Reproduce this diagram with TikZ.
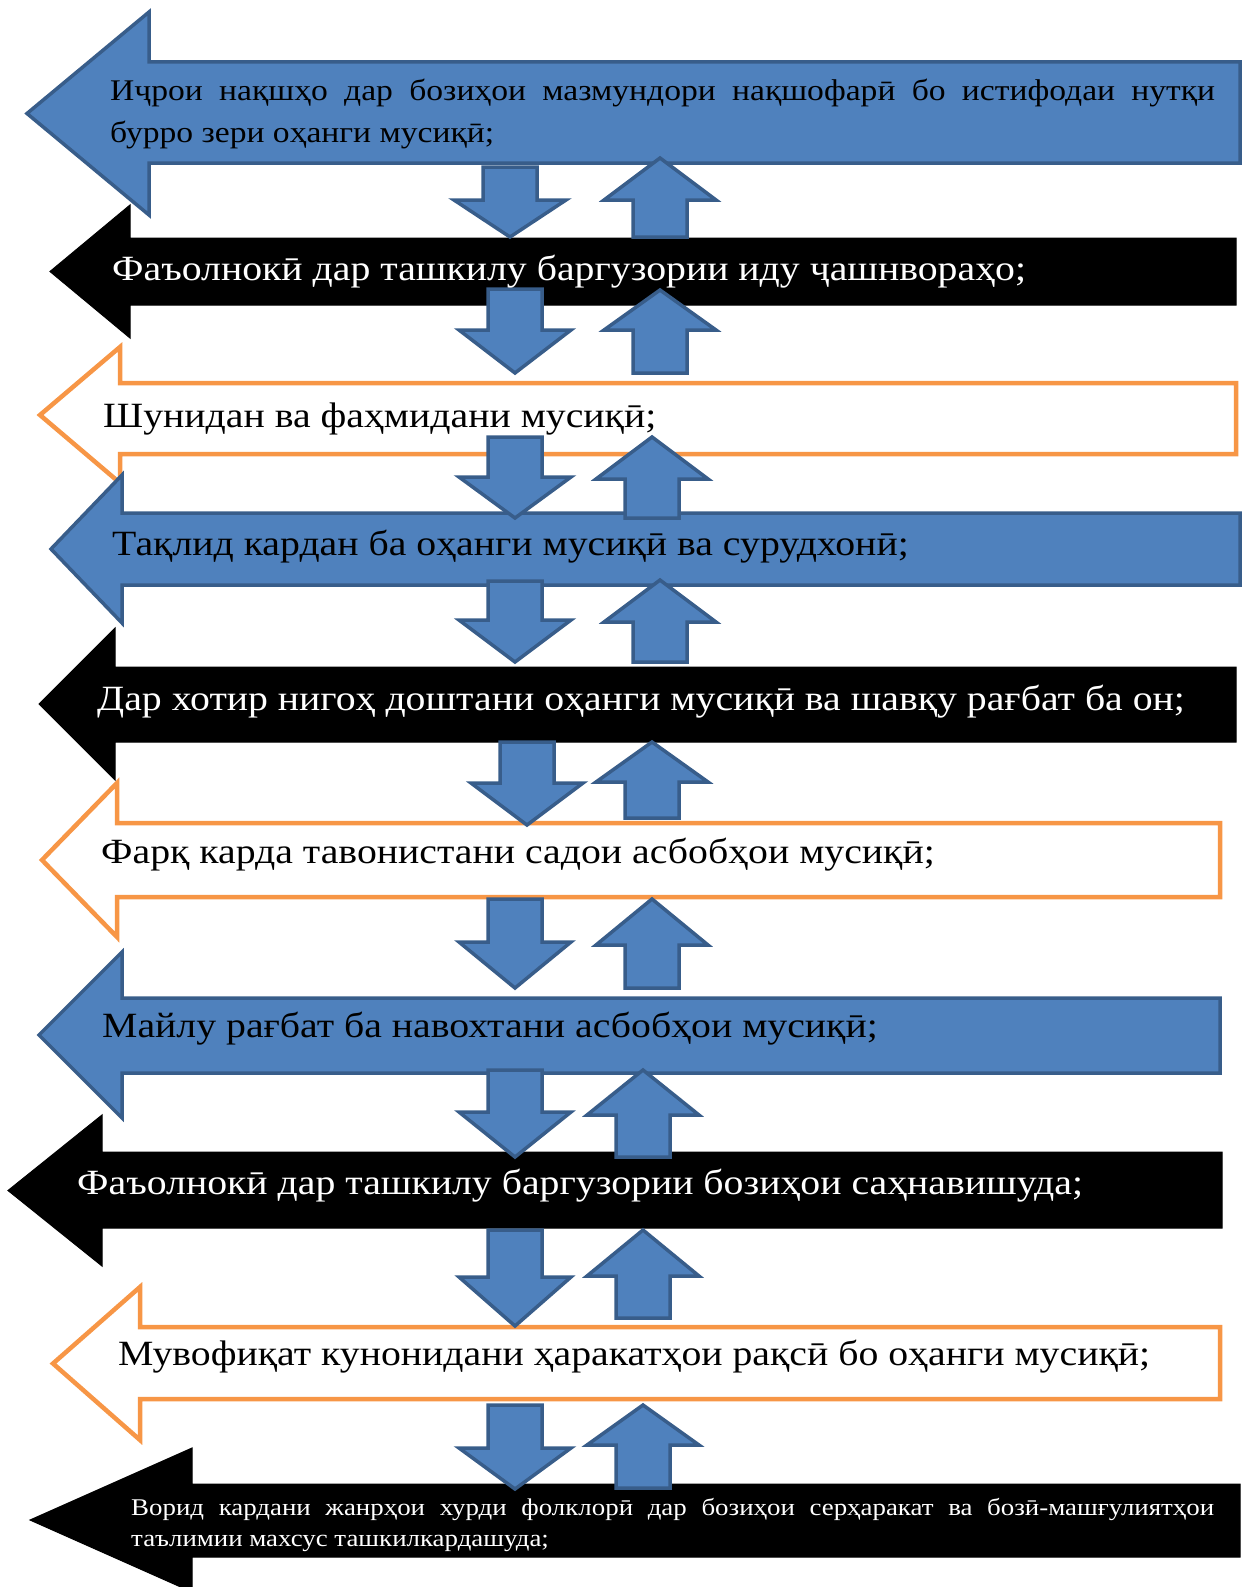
\documentclass[tikz,border=0pt]{standalone}
\usepackage{fontspec}
\setmainfont{Liberation Serif}[FakeStretch=1.12]
\usepackage{tikz}
\usetikzlibrary{positioning,calc}
\definecolor{officeblue}{RGB}{79,129,189}
\definecolor{officeblueline}{RGB}{56,93,138}
\definecolor{officeorange}{RGB}{247,150,70}
% big arrow pointing left: style, tip x, head x, head top, head bottom, body top, body bottom, right end
\newcommand{\bigarr}[8]{\draw[#1] (#2,{(#4+#5)/2}) -- (#3,#4) -- (#3,#6) -- (#8,#6) -- (#8,#7) -- (#3,#7) -- (#3,#5) -- cycle;}
% small arrows: centre x, top, head base, bottom
\newcommand{\dnarr}[4]{\draw[smallarr] (#1-27,#2) -- (#1+27,#2) -- (#1+27,#3) -- (#1+56,#3) -- (#1,#4) -- (#1-56,#3) -- (#1-27,#3) -- cycle;}
\newcommand{\uparr}[4]{\draw[smallarr] (#1,#2) -- (#1+56,#3) -- (#1+27,#3) -- (#1+27,#4) -- (#1-27,#4) -- (#1-27,#3) -- (#1-56,#3) -- cycle;}

\begin{document}
\begin{tikzpicture}[x=1pt,y=-1pt,line join=miter,
   bluearr/.style={fill=officeblue, draw=officeblueline, line width=3.5pt},
   blackarr/.style={fill=black, draw=black, line width=1pt},
   orangearr/.style={fill=white, draw=officeorange, line width=4.5pt},
   smallarr/.style={fill=officeblue, draw=officeblueline, line width=3.5pt},
   txt/.style={anchor=base west, inner sep=0pt, font=\fontsize{35.5}{40}\selectfont},
   smalltxt/.style={anchor=base west, inner sep=0pt, align=justify}]
  \useasboundingbox (0,0) rectangle (1244,1587);
  \clip (0,0) rectangle (1244,1587);
  % the ten steps
  \bigarr{bluearr}{27}{149}{12}{215}{62}{163}{1240}
  \bigarr{blackarr}{50}{130}{205}{338}{238}{305}{1236}
  \bigarr{orangearr}{40}{120}{347}{483}{383}{454}{1236}
  \bigarr{bluearr}{51}{122}{475}{623}{513}{585}{1240}
  \bigarr{blackarr}{39}{115}{628}{780}{667}{742}{1236}
  \bigarr{orangearr}{42}{117}{783}{937}{823}{897}{1220}
  \bigarr{bluearr}{39}{122}{952}{1118}{998}{1073}{1220}
  \bigarr{blackarr}{8}{102}{1115}{1266}{1152}{1228}{1222}
  \bigarr{orangearr}{53}{140}{1287}{1440}{1327}{1399}{1220}
  \bigarr{blackarr}{30}{192}{1448}{1592}{1484}{1557}{1240}
  % links between the steps
  \dnarr{510}{167}{200}{237}   \uparr{660}{158}{200}{237}
  \dnarr{515}{289}{330}{373}   \uparr{660}{290}{330}{373}
  \dnarr{515}{437}{477}{518}   \uparr{652}{437}{479}{518}
  \dnarr{515}{581}{620}{662}   \uparr{660}{580}{622}{662}
  \dnarr{527}{742}{783}{825}   \uparr{652}{742}{782}{818}
  \dnarr{515}{899}{942}{988}   \uparr{652}{899}{945}{988}
  \dnarr{515}{1070}{1112}{1157} \uparr{643}{1070}{1115}{1157}
  \dnarr{515}{1230}{1277}{1326} \uparr{643}{1230}{1276}{1318}
  \dnarr{515}{1405}{1448}{1489} \uparr{643}{1405}{1445}{1488}
  % texts
  \node[smalltxt, text width=1105pt, font=\fontsize{30}{42}\selectfont] (a1) at (110,100) {Иҷрои нақшҳо дар бозиҳои мазмундори нақшофарӣ бо истифодаи нутқи\linebreak бурро зери оҳанги мусиқӣ;};
  \node[txt, text=white] (a2) at (112,280) {Фаъолнокӣ дар ташкилу баргузории иду ҷашнвораҳо;};
  \node[txt] (a3) at (103,427) {Шунидан ва фаҳмидани мусиқӣ;};
  \node[txt] (a4) at (112,555) {Тақлид кардан ба оҳанги мусиқӣ ва сурудхонӣ;};
  \node[txt, text=white] (a5) at (97,710) {Дар хотир нигоҳ доштани оҳанги мусиқӣ ва шавқу рағбат ба он;};
  \node[txt] (a6) at (101,863) {Фарқ карда тавонистани садои асбобҳои мусиқӣ;};
  \node[txt] (a7) at (102,1037) {Майлу рағбат ба навохтани асбобҳои мусиқӣ;};
  \node[txt, text=white] (a8) at (77,1194) {Фаъолнокӣ дар ташкилу баргузории бозиҳои саҳнавишуда;};
  \node[txt] (a9) at (118,1365) {Мувофиқат кунонидани ҳаракатҳои рақсӣ бо оҳанги мусиқӣ;};
  \node[smalltxt, text width=1083pt, text=white, font=\fontsize{24}{31}\selectfont] (a10) at (131,1515) {Ворид кардани жанрҳои хурди фолклорӣ дар бозиҳои серҳаракат ва бозӣ-машғулиятҳои\linebreak таълимии махсус ташкилкардашуда;};
\end{tikzpicture}
\end{document}
